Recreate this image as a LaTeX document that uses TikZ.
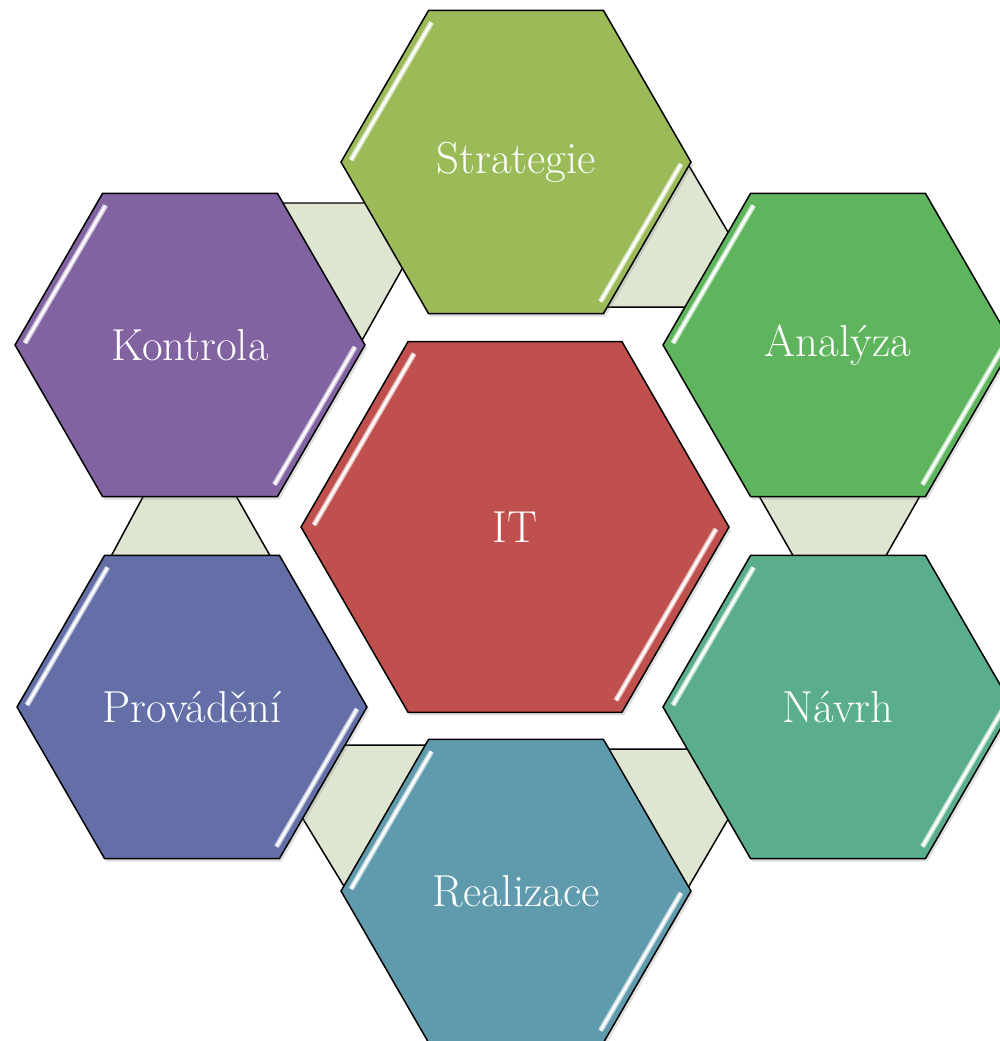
\documentclass[tikz,border=0pt]{standalone}
\usepackage{fontspec}
\usetikzlibrary{shapes.geometric,calc,shadows}

\definecolor{it}{RGB}{192,80,77}
\definecolor{strategie}{RGB}{155,187,89}
\definecolor{analyza}{RGB}{94,181,94}
\definecolor{navrh}{RGB}{90,174,140}
\definecolor{realizace}{RGB}{95,155,172}
\definecolor{provadeni}{RGB}{99,111,166}
\definecolor{kontrola}{RGB}{128,99,160}
\definecolor{linkgreen}{RGB}{222,230,210}

\begin{document}
\begin{tikzpicture}[x=0.02cm, y=-0.02cm,
  hexa/.style={regular polygon, regular polygon sides=6, draw=black, line width=0.85pt,
    inner sep=0pt, outer sep=0pt, minimum size=7cm, text=white,
    font=\fontsize{25.5}{30}\selectfont,
    drop shadow={shadow xshift=1.2pt, shadow yshift=-1.8pt, opacity=0.25}},
  linkbox/.style={fill=linkgreen, draw=black, line width=0.85pt}]
  \useasboundingbox (0,0) rectangle (1000,1041);
  \clip (0,0) rectangle (1000,1041);

  % links between the outer hexagons
  \filldraw[linkbox] (750,480) -- (929,480) -- (875,575) -- (804,575) -- cycle;
  \filldraw[linkbox] (560,307) -- (772,307) -- (665,125) -- cycle;
  \filldraw[linkbox] (260,203) -- (439,203) -- (351,360) -- cycle;
  \filldraw[linkbox] (152,480) -- (227,480) -- (281,575) -- (101,575) -- cycle;
  \filldraw[linkbox] (258,745) -- (470,745) -- (367,924) -- cycle;
  \filldraw[linkbox] (560,749) -- (769,749) -- (664,929) -- cycle;

  \node[hexa, fill=it, minimum size=8.56cm] (it) at (515,527) {IT};
  \node[hexa, fill=strategie] (strategie) at (516,162) {Strategie};
  \node[hexa, fill=analyza] (analyza) at (838,345) {Analýza};
  \node[hexa, fill=navrh] (navrh) at (838,707) {Návrh};
  \node[hexa, fill=realizace] (realizace) at (516,891) {Realizace};
  \node[hexa, fill=provadeni] (provadeni) at (192,707) {Provádění};
  \node[hexa, fill=kontrola] (kontrola) at (190,345) {Kontrola};

  % glossy edges
  \foreach \n/\r/\d in {it/214/13, strategie/175/10, analyza/175/10, navrh/175/10,
      realizace/175/10, provadeni/175/10, kontrola/175/10} {
    \draw[\n!35!white, line width=3pt] ($(\n)+(-\r+\d,-2)$) -- ($(\n)+(-\r/2+\d-7,-0.866*\r+12)$);
    \draw[white, line width=1.2pt] ($(\n)+(-\r+\d,-2)$) -- ($(\n)+(-\r/2+\d-7,-0.866*\r+12)$);
    \draw[\n!35!white, line width=3pt] ($(\n)+(\r-\d,2)$) -- ($(\n)+(\r/2-\d+7,0.866*\r-12)$);
    \draw[white, line width=1.2pt] ($(\n)+(\r-\d,2)$) -- ($(\n)+(\r/2-\d+7,0.866*\r-12)$);
  }
\end{tikzpicture}
\end{document}
